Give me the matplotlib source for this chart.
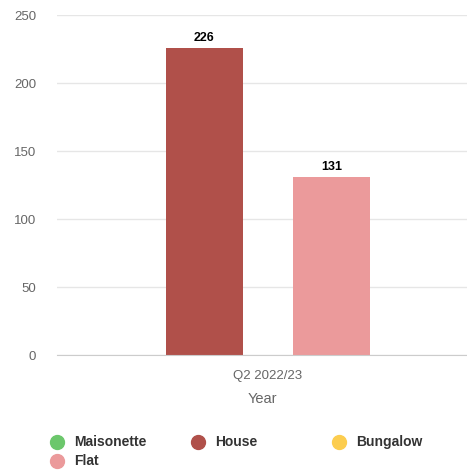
import matplotlib.pyplot as plt
from matplotlib.lines import Line2D

plt.rcParams['font.family'] = ['Liberation Sans', 'DejaVu Sans']

# Datos
category = 'Q2 2022/23'
series = ['House', 'Flat']
values = [226, 131]
bar_colors = ['#b0504a', '#eb9a9b']

legend_names = ['Maisonette', 'House', 'Bungalow', 'Flat']
legend_colors = ['#6cc76c', '#b0504a', '#fccd4f', '#eb9a9b']

W, H = 467, 470
fig = plt.figure(figsize=(W / 100, H / 100), dpi=100)
ax = fig.add_axes([57 / W, 115 / H, (W - 57) / W, 340 / H])

x = list(range(len(series)))
bars = ax.bar(x, values, width=0.606, color=bar_colors, zorder=3)
for b, v in zip(bars, values):
    ax.text(b.get_x() + b.get_width() / 2, v + 3, str(v), ha='center', va='bottom',
            fontsize=9, fontweight='bold', color='#000000')

ax.set_xlim(-1.161, 2.067)
ax.set_ylim(0, 250)
ax.set_yticks(range(0, 251, 50))
ax.set_xticks([0.5])
ax.set_xticklabels([category])
ax.tick_params(axis='both', length=0, labelsize=9.5, labelcolor='#666666')
ax.tick_params(axis='y', pad=15)
ax.tick_params(axis='x', pad=11)
ax.set_xlabel('Year', fontsize=10.5, color='#666666', labelpad=7)
ax.grid(axis='y', color='#e6e6e6', linewidth=1, zorder=0)
for s in ['top', 'right', 'left']:
    ax.spines[s].set_visible(False)
ax.spines['bottom'].set_color('#cccccc')
ax.spines['bottom'].set_zorder(4)

# Leyenda
for i, (name, color) in enumerate(zip(legend_names, legend_colors)):
    col, row = i % 3, i // 3
    px = 57 + col * 141
    py = 442 + row * 19
    fig.add_artist(Line2D([px / W], [1 - py / H], marker='o', markersize=10,
                          color=color, linestyle='none', transform=fig.transFigure))
    fig.text((px + 17) / W, 1 - py / H, name, ha='left', va='center',
             fontsize=10, fontweight='bold', color='#333333')

plt.savefig('out.png', dpi=100)
